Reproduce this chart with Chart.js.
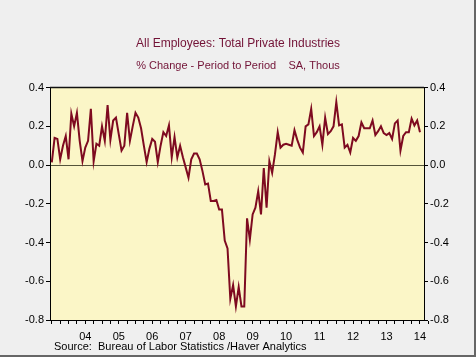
<!DOCTYPE html>
<html><head><meta charset="utf-8">
<script src="https://cdn.jsdelivr.net/npm/chart.js@4"></script>
<style>html,body{margin:0;padding:0;background:#efefef;overflow:hidden;} #wrap{width:476px;height:357px;position:relative;}</style>
</head><body><div id="wrap"><canvas id="c" width="476" height="357"></canvas></div>
<script>
// Monthly series, starting July 2003
const startYear = 2003;
const startMonth = 7;
const values = [
  0.014, 0.14, 0.135, 0.03, 0.10, 0.15, 0.03, 0.265, 0.20, 0.27, 0.125, 0.02,
  0.09, 0.125, 0.29, 0.02, 0.11, 0.10, 0.20, 0.125, 0.31, 0.13, 0.23, 0.245,
  0.16, 0.075, 0.10, 0.27, 0.125, 0.20, 0.27, 0.245, 0.19, 0.10, 0.015, 0.085,
  0.135, 0.12, 0.015, 0.10, 0.17, 0.15, 0.205, 0.04, 0.145, 0.04, 0.10, 0.04,
  -0.012, -0.065, 0.03, 0.06, 0.06, 0.03, -0.03, -0.10, -0.095, -0.185, -0.185, -0.18,
  -0.23, -0.23, -0.39, -0.43, -0.69, -0.62, -0.73, -0.63, -0.73, -0.73, -0.275, -0.385,
  -0.255, -0.22, -0.135, -0.255, -0.015, -0.22, 0.02, -0.04, 0.055, 0.17, 0.09, 0.105,
  0.11, 0.105, 0.10, 0.18, 0.13, 0.09, 0.065, 0.20, 0.21, 0.29, 0.15, 0.17,
  0.20, 0.105, 0.245, 0.16, 0.175, 0.20, 0.325, 0.205, 0.21, 0.09, 0.105, 0.065,
  0.14, 0.125, 0.15, 0.22, 0.19, 0.19, 0.19, 0.23, 0.155, 0.175, 0.20, 0.165,
  0.155, 0.165, 0.135, 0.215, 0.23, 0.075, 0.15, 0.17, 0.17, 0.24, 0.205, 0.23,
  0.17
];
const yTickValues = [-0.8, -0.6, -0.4, -0.2, 0.0, 0.2, 0.4];
const yearLabels = ['04','05','06','07','08','09','10','11','12','13','14'];
const firstLabelYear = 2004;
const titleText = 'All Employees: Total Private Industries';
const subtitleText = '% Change - Period to Period    SA, Thous';
const sourceText = 'Source:  Bureau of Labor Statistics /Haver Analytics';

const points = values.map((v, i) => ({ x: startYear + (startMonth - 1) / 12 + i / 12, y: v }));
const quarterTicks = [];
for (let q = 0; q <= 45; q++) quarterTicks.push(2003.5 + q * 0.25);

const FONT = "'Liberation Sans', Arial, sans-serif";
const MAROON = '#721236';

const framePlugin = {
  id: 'frame',
  beforeDraw(chart) {
    const { ctx, chartArea: a } = chart;
    ctx.save();
    ctx.fillStyle = '#efefef';
    ctx.fillRect(0, 0, chart.width, chart.height);
    ctx.fillStyle = '#fbf6c7';
    ctx.fillRect(a.left, a.top, a.right - a.left, a.bottom - a.top);
    ctx.restore();
  },
  afterDraw(chart) {
    const { ctx, chartArea: a } = chart;
    ctx.save();
    ctx.strokeStyle = '#111';
    ctx.lineWidth = 1.5;
    ctx.beginPath();
    ctx.moveTo(a.left, a.top); ctx.lineTo(a.right, a.top);
    ctx.stroke();
    ctx.strokeStyle = '#666';
    ctx.lineWidth = 2;
    ctx.beginPath();
    ctx.moveTo(475, 0); ctx.lineTo(475, 356); ctx.lineTo(0, 356);
    ctx.stroke();
    ctx.fillStyle = '#000';
    ctx.font = '11px ' + FONT;
    ctx.textBaseline = 'middle';
    ctx.textAlign = 'left';
    ctx.fillText(sourceText, 54, 346.5);
    ctx.restore();
  }
};

const yAxisCommon = {
  type: 'linear', min: -0.8, max: 0.4,
  afterBuildTicks(s) { s.ticks = yTickValues.map(v => ({ value: v })); },
  ticks: { callback: v => v.toFixed(1), color: '#000', font: { family: FONT, size: 11 }, padding: 2 },
  border: { display: true, color: '#000', width: 1 }
};

new Chart(document.getElementById('c'), {
  type: 'line',
  data: { datasets: [{
    data: points, borderColor: '#7e0a20', borderWidth: 2, pointRadius: 0, tension: 0,
    xAxisID: 'x', yAxisID: 'y'
  }]},
  options: {
    responsive: false, animation: false, devicePixelRatio: 1,
    layout: { padding: 0 },
    plugins: {
      legend: { display: false }, tooltip: { enabled: false },
      title: { display: true, text: titleText, color: MAROON,
        font: { family: FONT, size: 12, weight: 'normal' }, padding: { top: 36, bottom: 9 } },
      subtitle: { display: true, text: subtitleText, color: MAROON,
        font: { family: FONT, size: 11, weight: 'normal' }, padding: { top: 0, bottom: 15 } }
    },
    scales: {
      x: {
        type: 'linear', min: 2003.446, max: 2014.62,
        afterFit(s) { s.height = 37; },
        afterBuildTicks(s) { s.ticks = quarterTicks.map(v => ({ value: v })); },
        ticks: {
          autoSkip: false, maxRotation: 0, minRotation: 0, color: '#000', padding: 6,
          font: { family: FONT, size: 11 },
          callback: v => {
            const frac = v - Math.floor(v);
            if (Math.abs(frac - 0.5) < 1e-6) {
              const idx = Math.floor(v) - firstLabelYear;
              return idx >= 0 && idx < yearLabels.length ? yearLabels[idx] : '';
            }
            return '';
          }
        },
        grid: { drawOnChartArea: false, tickLength: 4, tickColor: '#000', tickWidth: 1 },
        border: { display: true, color: '#000', width: 1 }
      },
      y: Object.assign({}, yAxisCommon, {
        position: 'left',
        afterFit(s) { s.width = 50; },
        grid: {
          color: c => (c.tick && Math.abs(c.tick.value) < 1e-9) ? '#54543a' : 'rgba(0,0,0,0)',
          tickColor: '#000', tickLength: 4, lineWidth: 1
        }
      }),
      y2: Object.assign({}, yAxisCommon, {
        position: 'right',
        afterFit(s) { s.width = 52; },
        grid: { drawOnChartArea: false, tickColor: '#000', tickLength: 4 }
      })
    }
  },
  plugins: [framePlugin]
});
</script>
</body></html>
